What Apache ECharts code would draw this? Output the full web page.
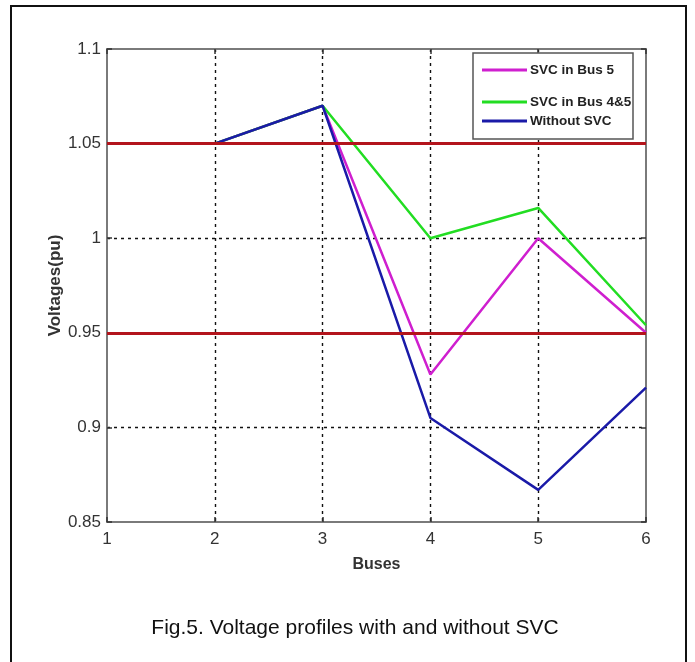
<!DOCTYPE html>
<html>
<head>
<meta charset="utf-8">
<script src="https://cdn.jsdelivr.net/npm/echarts@6/dist/echarts.min.js"></script>
<style>html,body{margin:0;padding:0;background:#fff}#c{width:695px;height:662px}</style>
</head>
<body>
<div id="c"></div>
<script>
// ---- data ----
const buses = [1, 2, 3, 4, 5, 6];
const svcBus5 = [1.05, 1.05, 1.07, 0.928, 1.000, 0.950];
const svcBus45 = [1.05, 1.05, 1.07, 1.000, 1.016, 0.954];
const withoutSvc = [1.05, 1.05, 1.07, 0.905, 0.867, 0.921];
const limits = [1.05, 0.95];
const seriesNames = ['SVC in Bus 5', 'SVC in Bus 4&5', 'Without SVC'];
const yTickLabels = ['0.85', '0.9', '0.95', '1', '1.05', '1.1'];
const xTickLabels = ['1', '2', '3', '4', '5', '6'];
const caption = 'Fig.5. Voltage profiles with and without SVC';

const sans = '"Liberation Sans", Arial, sans-serif';
const pair = (vals) => buses.map((b, i) => [b, vals[i]]);
const colors = ['#cf1fcf', '#22dd22', '#1a1aa8'];
const datasets = [svcBus5, svcBus45, withoutSvc];

const grid = { left: 107, top: 49, right: 49, bottom: 140, show: false };
const gridLine = { show: true, showMinLine: false, showMaxLine: false, lineStyle: { color: '#111', type: [3, 4], width: 1.4 } };
const axisLine = { show: true, lineStyle: { color: '#7a7a7a', width: 2 } };
const tick = { show: true, inside: true, length: 5, lineStyle: { color: '#333', width: 1.5 } };

const chart = echarts.init(document.getElementById('c'));
chart.setOption({
  animation: false,
  backgroundColor: '#fff',
  title: {
    text: caption, left: 350, top: 613, textAlign: 'center',
    textStyle: { fontFamily: sans, fontSize: 21, fontWeight: 'normal', color: '#111' }
  },
  graphic: [
    { type: 'rect', z: -1, shape: { x: 11, y: 6, width: 675, height: 700 }, style: { fill: 'none', stroke: '#111', lineWidth: 2 } },
    { type: 'rect', z: 3, shape: { x: 473, y: 53, width: 160, height: 86 }, style: { fill: '#fff', stroke: '#555', lineWidth: 1.5 } }
  ],
  legend: seriesNames.map((n, i) => ({
    data: [n], left: 482, top: [61, 93, 112][i], padding: 0, z: 5,
    itemWidth: 45, itemHeight: 3, icon: 'rect',
    textStyle: { fontFamily: sans, fontSize: 13.5, fontWeight: 'bold', color: '#222', lineHeight: 18, padding: [0, 0, 0, -2] }
  })),
  grid: grid,
  xAxis: [
    {
      type: 'value', min: 1, max: 6, interval: 1, position: 'bottom',
      name: 'Buses', nameLocation: 'middle', nameGap: 35, nameMoveOverlap: false,
      nameTextStyle: { fontFamily: sans, fontSize: 16, fontWeight: 'bold', color: '#333' },
      axisLine: axisLine, axisTick: tick,
      axisLabel: { margin: 9, fontFamily: sans, fontSize: 17, color: '#333', formatter: (v) => xTickLabels[buses.indexOf(v)] ?? '' },
      splitLine: gridLine
    },
    {
      type: 'value', min: 1, max: 6, interval: 1, position: 'top',
      axisLine: axisLine, axisTick: tick,
      axisLabel: { show: false }, splitLine: { show: false }
    }
  ],
  yAxis: [
    {
      type: 'value', min: 0.85, max: 1.1, interval: 0.05, position: 'left',
      name: 'Voltages(pu)', nameLocation: 'middle', nameGap: 43, nameRotate: 90, nameMoveOverlap: false,
      nameTextStyle: { fontFamily: sans, fontSize: 17, fontWeight: 'bold', color: '#333' },
      axisLine: axisLine, axisTick: tick,
      axisLabel: { margin: 6, fontFamily: sans, fontSize: 17, color: '#333',
        formatter: (v) => yTickLabels[Math.round((v - 0.85) / 0.05)] },
      splitLine: gridLine
    },
    {
      type: 'value', min: 0.85, max: 1.1, interval: 0.05, position: 'right',
      axisLine: axisLine, axisTick: tick,
      axisLabel: { show: false }, splitLine: { show: false }
    }
  ],
  series: datasets.map((d, i) => ({
    name: seriesNames[i], type: 'line', data: pair(d), symbol: 'none', z: 2 + i * 0.1,
    color: colors[i], lineStyle: { color: colors[i], width: 2.5 }
  })).concat([{
    name: 'limits', type: 'line', data: [], z: 4, symbol: 'none',
    markLine: {
      silent: true, symbol: 'none', label: { show: false },
      lineStyle: { color: '#b3141c', width: 3, type: 'solid' },
      data: limits.map((v) => ({ yAxis: v }))
    }
  }])
});
</script>
</body>
</html>
